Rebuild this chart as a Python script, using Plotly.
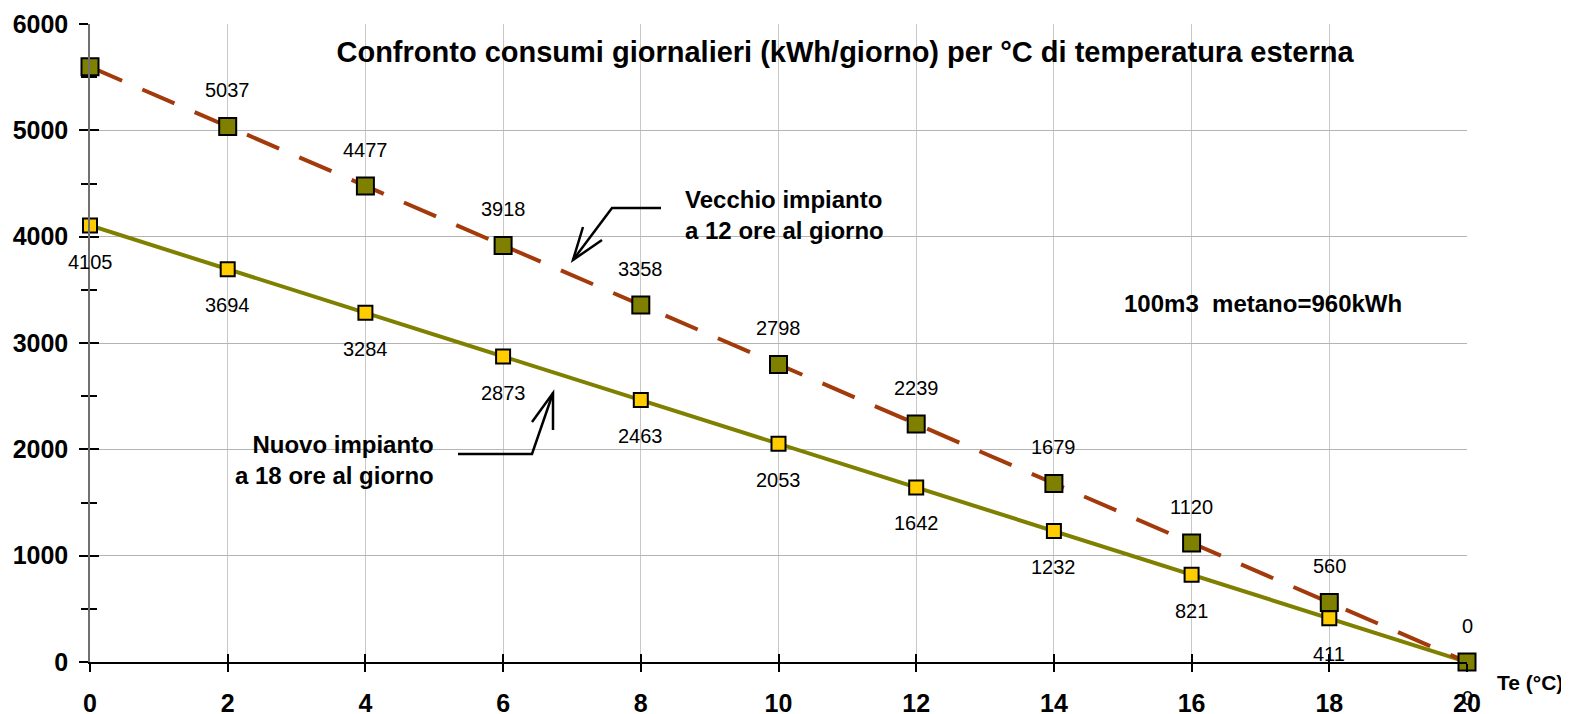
import plotly.graph_objects as go

# ---- data ----
temp = [0, 2, 4, 6, 8, 10, 12, 14, 16, 18, 20]
vecchio = [5597, 5037, 4477, 3918, 3358, 2798, 2239, 1679, 1120, 560, 0]
nuovo = [4105, 3694, 3284, 2873, 2463, 2053, 1642, 1232, 821, 411, 0]
vecchio_labels = ["", "5037", "4477", "3918", "3358", "2798", "2239", "1679", "1120", "560", "0"]
nuovo_labels = ["4105", "3694", "3284", "2873", "2463", "2053", "1642", "1232", "821", "411", "0"]
x_ticks = [0, 2, 4, 6, 8, 10, 12, 14, 16, 18, 20]
y_ticks = [0, 1000, 2000, 3000, 4000, 5000, 6000]

OFF = 8  # default body margin of the page
W, H = 1569 - OFF, 714 - OFF
# plot area in page pixels
PL, PR, PT, PB = 90, 1467, 24, 662
L, T = PL - OFF, PT - OFF
R, B = W - (PR - OFF), H - (PB - OFF)
PW, PH = PR - PL, PB - PT

def px(x):
    return (x - PL) / PW

def py(y):
    return (PB - y) / PH

FONT = "Liberation Sans, Arial, sans-serif"

fig = go.Figure()

fig.add_trace(go.Scatter(
    x=temp, y=nuovo, mode="lines+markers", cliponaxis=False,
    line=dict(color="#808000", width=4),
    marker=dict(symbol="square", size=14, color="#FFCC00", line=dict(color="black", width=2)),
    showlegend=False, hoverinfo="x+y"))

fig.add_trace(go.Scatter(
    x=temp, y=vecchio, mode="lines+markers", cliponaxis=False,
    line=dict(color="#A33A0B", width=4, dash="35px,22px"),
    marker=dict(symbol="square", size=17, color="#808000", line=dict(color="black", width=2)),
    showlegend=False, hoverinfo="x+y"))

# dummy trace for crossing ticks axes
fig.add_trace(go.Scatter(x=[0], y=[0], xaxis="x2", yaxis="y2", mode="markers",
                         marker=dict(opacity=0), showlegend=False, hoverinfo="skip"))

lab_font = dict(family=FONT, size=20, color="black")
annotations = []
for xv, yv, t in zip(temp, vecchio, vecchio_labels):
    if t:
        annotations.append(dict(x=xv, y=yv, text=t, showarrow=False, yshift=36, font=lab_font))
for xv, yv, t in zip(temp, nuovo, nuovo_labels):
    annotations.append(dict(x=xv, y=yv, text=t, showarrow=False, yshift=-36, font=lab_font))

bold24 = dict(family=FONT, size=24, color="black")
annotations += [
    dict(xref="paper", yref="paper", x=px(683), y=py(215), xanchor="left", yanchor="middle",
         text="<b>Vecchio impianto<br>a 12 ore al giorno</b>", align="left", showarrow=False, font=bold24),
    dict(xref="paper", yref="paper", x=px(436), y=py(460), xanchor="right", yanchor="middle",
         text="<b>Nuovo impianto<br>a 18 ore al giorno</b>", align="right", showarrow=False, font=bold24),
    dict(xref="paper", yref="paper", x=px(1122), y=py(303), xanchor="left", yanchor="middle",
         text="<b>100m3 \u00a0metano=960kWh</b>", showarrow=False, font=bold24),
    dict(xref="paper", yref="paper", x=px(1495), y=py(683), xanchor="left", yanchor="middle",
         text="<b>Te (°C)</b>", showarrow=False, font=dict(family=FONT, size=21, color="black")),
]

def to_data(pxx, pyy):
    return (pxx - PL) / PW * 20, (PB - pyy) / PH * 6000

def path(points):
    pts = [to_data(*p) for p in points]
    return "M " + " L ".join(f"{a:.4f},{b:.3f}" for a, b in pts)

shapes = []
arrow_line = dict(color="black", width=2.5)
# Vecchio arrow
shapes.append(dict(type="path", xref="x", yref="y", path=path([(661, 208), (612, 208), (573, 260)]), line=arrow_line))
shapes.append(dict(type="path", xref="x", yref="y", path=path([(583, 227), (573, 260), (602, 240)]), line=arrow_line))
# Nuovo arrow
shapes.append(dict(type="path", xref="x", yref="y", path=path([(458, 454), (532, 454), (553, 393)]), line=arrow_line))
shapes.append(dict(type="path", xref="x", yref="y", path=path([(532, 422), (553, 393), (553, 430)]), line=arrow_line))

fig.update_layout(
    width=W, height=H,
    margin=dict(l=L, r=R, t=T, b=B, pad=0, autoexpand=False),
    paper_bgcolor="white", plot_bgcolor="white",
    font=dict(family=FONT, color="black"),
    title=dict(text="<b>Confronto consumi giornalieri (kWh/giorno) per °C di temperatura esterna</b>",
               x=(845 - OFF) / W, xanchor="center", y=1 - (52 - OFF) / H, yanchor="middle", yref="container",
               automargin=False,
               font=dict(family=FONT, size=29, color="black")),
    xaxis=dict(range=[0, 20], tickvals=x_ticks, ticktext=[f"<b>{v}</b>" for v in x_ticks],
               showgrid=True, gridcolor="#C8C8C8", gridwidth=1,
               showline=True, linecolor="black", linewidth=1.5,
               ticks="outside", ticklen=8, tickcolor="black", tickwidth=1.5,
               ticklabelstandoff=10, automargin=False,
               tickfont=dict(family=FONT, size=25, color="black"), zeroline=False, fixedrange=True),
    yaxis=dict(range=[0, 6000], tickvals=y_ticks, ticktext=[f"<b>{v}</b>" for v in y_ticks],
               showgrid=True, gridcolor="#B4B4B4", gridwidth=1,
               showline=True, linecolor="#707070", linewidth=1.5,
               ticks="outside", ticklen=9, tickcolor="black", tickwidth=1.5,
               minor=dict(dtick=500, ticks="outside", ticklen=7, tickcolor="black", showgrid=False),
               ticklabelstandoff=6, automargin=False,
               tickfont=dict(family=FONT, size=25, color="black"), zeroline=False, fixedrange=True),
    xaxis2=dict(range=[0, 20], overlaying="x", anchor="y2", tickvals=x_ticks, showticklabels=False,
                ticks="inside", ticklen=8, tickcolor="black", tickwidth=1.5, showgrid=False, zeroline=False,
                showline=False, automargin=False),
    yaxis2=dict(range=[0, 6000], overlaying="y", anchor="x2", tickvals=y_ticks, showticklabels=False,
                ticks="inside", ticklen=9, tickcolor="black", tickwidth=1.5, showgrid=False, zeroline=False,
                minor=dict(dtick=500, ticks="inside", ticklen=7, tickcolor="black"),
                showline=False, automargin=False),
    annotations=annotations,
    shapes=shapes,
)

fig.write_html("out.html")
